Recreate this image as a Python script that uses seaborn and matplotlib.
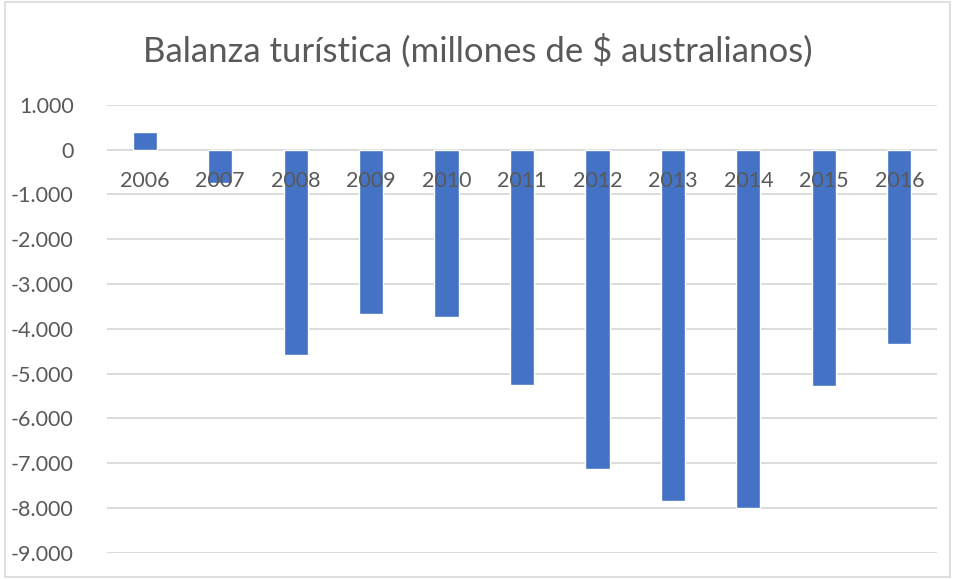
import matplotlib
matplotlib.use("Agg")
import matplotlib.pyplot as plt
import matplotlib.patches as mpatches
import seaborn as sns
import pandas as pd

years = ["2006", "2007", "2008", "2009", "2010", "2011", "2012", "2013", "2014", "2015", "2016"]
balance = [390, -750, -4590, -3665, -3745, -5260, -7140, -7850, -8010, -5285, -4340]
y_ticks = [1000, 0, -1000, -2000, -3000, -4000, -5000, -6000, -7000, -8000, -9000]
title = "Balanza turística (millones de $ australianos)"

df = pd.DataFrame({"year": years, "value": balance})

sns.set_style("white")
plt.rcParams["font.family"] = ["Lato", "DejaVu Sans"]

W, H = 955, 579
fig = plt.figure(figsize=(W / 100, H / 100), dpi=100)
ax = fig.add_axes([107 / W, (H - 552.7) / H, (937 - 107) / W, (552.7 - 104.7) / H])

sns.barplot(data=df, x="year", y="value", color="#4472C4", width=0.32,
            saturation=1, ax=ax, zorder=3)

ax.set_ylim(-9000, 1000)
ax.set_xlim(-0.5, len(years) - 0.5)
ax.set_yticks(y_ticks)
ax.set_yticklabels([f"{v:,}".replace(",", ".") for v in y_ticks],
                   fontsize=15.5, color="#595959")
ax.tick_params(axis="y", length=0, pad=24)
ax.yaxis.grid(True, color="#D9D9D9", linewidth=1.3, zorder=0)
ax.set_axisbelow(True)
for s in ax.spines.values():
    s.set_visible(False)

ax.set_xticks([])
ax.set_xlabel("")
ax.set_ylabel("")
for i, yr in enumerate(years):
    ax.text(i, -700, yr, ha="center", va="center", fontsize=15.5,
            color="#595959", zorder=4)

fig.text(0.5, (H - 51) / H, title, ha="center", va="center",
         fontsize=25, color="#595959")

border = mpatches.Rectangle((5 / W, 2 / H), (W - 10) / W, (H - 4) / H,
                            transform=fig.transFigure, fill=False,
                            edgecolor="#D9D9D9", linewidth=1.2)
fig.patches.append(border)

fig.savefig("out.png", dpi=100)
